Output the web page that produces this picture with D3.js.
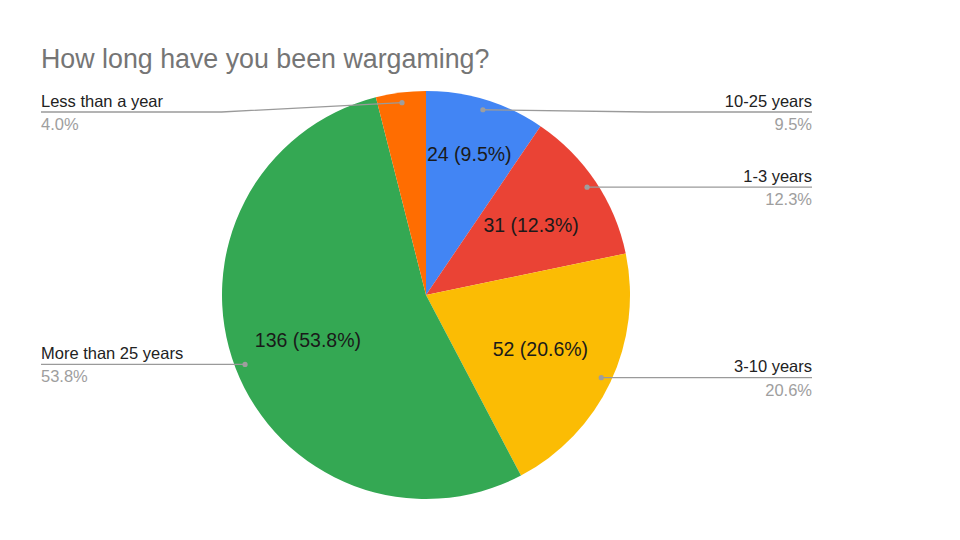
<!DOCTYPE html>
<html>
<head>
<meta charset="utf-8">
<script src="https://cdn.jsdelivr.net/npm/d3@7"></script>
<style>
  body { margin: 0; background: #fff; }
  svg { font-family: Arial, "Liberation Sans", sans-serif; }
</style>
</head>
<body>
<div class="chart"></div>
<script>
// survey answers, clockwise from 12 o'clock
var categories = ["10-25 years", "1-3 years", "3-10 years", "More than 25 years", "Less than a year"];
var counts = [24, 31, 52, 136, 10];
var title = "How long have you been wargaming?";

var width = 960, height = 540;
var cx = 426, cy = 295, radius = 204;
var left_edge = 41, right_edge = 812;
var min_line_y = 112;

var color = d3.scaleOrdinal()
  .domain(categories)
  .range(["#4285f4", "#ea4335", "#fbbc04", "#34a853", "#ff6d01"]);

var total = d3.sum(counts);
var fmt = d3.format(".1%");

var figure_data = categories.map(function (c, i) {
  return { category: c, count: counts[i], share: counts[i] / total };
});

var svg = d3.select(".chart").append("svg")
  .attr("width", width)
  .attr("height", height);

svg.append("text")
  .attr("x", 41)
  .attr("y", 68)
  .attr("font-size", 26.8)
  .attr("fill", "#757575")
  .text(title);

var pie = d3.pie().sort(null).value(function (d) { return d.count; });
var arcs = pie(figure_data);
var arc = d3.arc().innerRadius(0).outerRadius(radius);

var g = svg.append("g").attr("transform", "translate(" + cx + "," + cy + ")");

g.selectAll("path.slice")
  .data(arcs)
  .enter()
  .append("path")
  .attr("class", "slice")
  .attr("d", arc)
  .attr("fill", function (d) { return color(d.data.category); });

// slice labels, pushed outward until the text box fits inside its wedge
var inner = g.selectAll("text.inner")
  .data(arcs)
  .enter()
  .append("text")
  .attr("class", "inner")
  .attr("font-size", 19.5)
  .attr("fill", "#1a1a1a")
  .attr("text-anchor", "middle")
  .text(function (d) { return d.data.count + " (" + fmt(d.data.share) + ")"; });

inner.each(function (d) {
  var w = this.getComputedTextLength(), h = 15, pad = 1;
  var mid = (d.startAngle + d.endAngle) / 2;
  var placed = false;
  for (var r = radius * 0.62; r < radius * 0.95; r += 1) {
    var x = Math.sin(mid) * r, y = -Math.cos(mid) * r;
    var corners = [[x - w / 2, y - h / 2], [x + w / 2, y - h / 2], [x - w / 2, y + h / 2], [x + w / 2, y + h / 2]];
    var ok = corners.every(function (p) {
      var a = Math.atan2(p[0], -p[1]);
      if (a < 0) a += 2 * Math.PI;
      var dist = Math.sqrt(p[0] * p[0] + p[1] * p[1]);
      var off = pad / Math.max(dist, 1);
      return a >= d.startAngle + off && a <= d.endAngle - off && dist < radius - 2;
    });
    if (ok) {
      d3.select(this).attr("x", x).attr("y", y + 7);
      placed = true;
      break;
    }
  }
  if (!placed) d3.select(this).remove();
});

// leader lines and outside labels
var dot_arc = d3.arc().innerRadius(radius * 0.95).outerRadius(radius * 0.95);

arcs.forEach(function (d) {
  var p = dot_arc.centroid(d);
  var dx = cx + p[0], dy = cy + p[1];
  var mid = (d.startAngle + d.endAngle) / 2;
  var right = mid < Math.PI;
  var edge = right ? right_edge : left_edge;
  var line_y = Math.max(dy, min_line_y);
  var bend = (dx + edge) / 2;
  var pts = line_y === dy ? [[dx, dy], [edge, line_y]] : [[dx, dy], [bend, line_y], [edge, line_y]];

  svg.append("path")
    .attr("d", d3.line()(pts))
    .attr("fill", "none")
    .attr("stroke", "#9a9a9a")
    .attr("stroke-width", 1.3);

  svg.append("circle")
    .attr("cx", dx)
    .attr("cy", dy)
    .attr("r", 2.6)
    .attr("fill", "#9e9e9e");

  svg.append("text")
    .attr("x", edge)
    .attr("y", line_y - 5.5)
    .attr("text-anchor", right ? "end" : "start")
    .attr("font-size", 16.5)
    .attr("fill", "#222")
    .text(d.data.category);

  svg.append("text")
    .attr("x", edge)
    .attr("y", line_y + 18)
    .attr("text-anchor", right ? "end" : "start")
    .attr("font-size", 16.5)
    .attr("fill", "#9e9e9e")
    .text(fmt(d.data.share));
});
</script>
</body>
</html>
